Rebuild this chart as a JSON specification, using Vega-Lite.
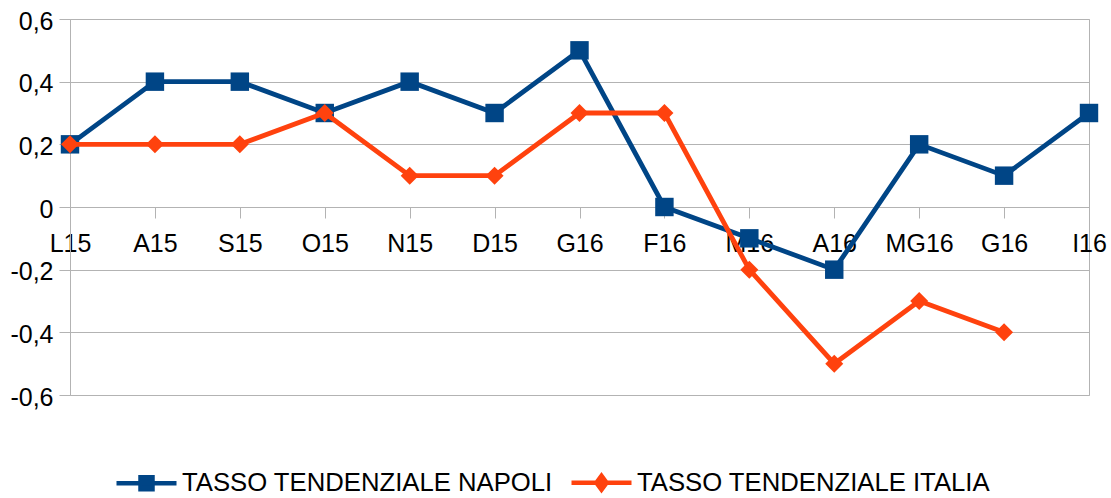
{
  "$schema": "https://vega.github.io/schema/vega-lite/v6.json",
  "width": 1019,
  "height": 376,
  "autosize": {"type": "none"},
  "padding": {"left": 70, "top": 19, "right": 22, "bottom": 103},
  "config": {
    "locale": {"number": {"decimal": ",", "thousands": ".", "grouping": [3], "currency": ["", "€"], "minus": "-"}},
    "view": {"stroke": "#b3b3b3", "strokeWidth": 1},
    "font": "Liberation Sans"
  },
  "data": {
    "values": [
      {"serie": "TASSO TENDENZIALE NAPOLI", "mese": "L15", "valore": 0.2},
      {"serie": "TASSO TENDENZIALE NAPOLI", "mese": "A15", "valore": 0.4},
      {"serie": "TASSO TENDENZIALE NAPOLI", "mese": "S15", "valore": 0.4},
      {"serie": "TASSO TENDENZIALE NAPOLI", "mese": "O15", "valore": 0.3},
      {"serie": "TASSO TENDENZIALE NAPOLI", "mese": "N15", "valore": 0.4},
      {"serie": "TASSO TENDENZIALE NAPOLI", "mese": "D15", "valore": 0.3},
      {"serie": "TASSO TENDENZIALE NAPOLI", "mese": "G16", "valore": 0.5},
      {"serie": "TASSO TENDENZIALE NAPOLI", "mese": "F16", "valore": 0.0},
      {"serie": "TASSO TENDENZIALE NAPOLI", "mese": "M16", "valore": -0.1},
      {"serie": "TASSO TENDENZIALE NAPOLI", "mese": "A16", "valore": -0.2},
      {"serie": "TASSO TENDENZIALE NAPOLI", "mese": "MG16", "valore": 0.2},
      {"serie": "TASSO TENDENZIALE NAPOLI", "mese": "G16 ", "valore": 0.1},
      {"serie": "TASSO TENDENZIALE NAPOLI", "mese": "I16", "valore": 0.3},
      {"serie": "TASSO TENDENZIALE ITALIA", "mese": "L15", "valore": 0.2},
      {"serie": "TASSO TENDENZIALE ITALIA", "mese": "A15", "valore": 0.2},
      {"serie": "TASSO TENDENZIALE ITALIA", "mese": "S15", "valore": 0.2},
      {"serie": "TASSO TENDENZIALE ITALIA", "mese": "O15", "valore": 0.3},
      {"serie": "TASSO TENDENZIALE ITALIA", "mese": "N15", "valore": 0.1},
      {"serie": "TASSO TENDENZIALE ITALIA", "mese": "D15", "valore": 0.1},
      {"serie": "TASSO TENDENZIALE ITALIA", "mese": "G16", "valore": 0.3},
      {"serie": "TASSO TENDENZIALE ITALIA", "mese": "F16", "valore": 0.3},
      {"serie": "TASSO TENDENZIALE ITALIA", "mese": "M16", "valore": -0.2},
      {"serie": "TASSO TENDENZIALE ITALIA", "mese": "A16", "valore": -0.5},
      {"serie": "TASSO TENDENZIALE ITALIA", "mese": "MG16", "valore": -0.3},
      {"serie": "TASSO TENDENZIALE ITALIA", "mese": "G16 ", "valore": -0.4}
    ]
  },
  "encoding": {
    "x": {
      "field": "mese",
      "type": "ordinal",
      "sort": null,
      "scale": {"type": "point", "padding": 0, "domain": ["L15", "A15", "S15", "O15", "N15", "D15", "G16", "F16", "M16", "A16", "MG16", "G16 ", "I16"]},
      "axis": {
        "title": null, "labelAngle": 0, "offset": -188, "grid": false,
        "domainColor": "#b3b3b3", "tickColor": "#b3b3b3", "tickSize": 11,
        "labelPadding": 13, "labelFontSize": 25, "labelColor": "#000000", "labelFont": "Liberation Sans"
      }
    },
    "y": {
      "field": "valore",
      "type": "quantitative",
      "scale": {"domain": [-0.6, 0.6], "nice": false, "zero": false},
      "axis": {
        "title": null, "values": [-0.6, -0.4, -0.2, 0, 0.2, 0.4, 0.6], "format": ".1~f",
        "gridColor": "#b3b3b3", "domainColor": "#b3b3b3", "tickColor": "#b3b3b3", "tickSize": 11,
        "labelPadding": 6, "labelFontSize": 25, "labelColor": "#000000", "labelOffset": 2, "labelFont": "Liberation Sans"
      }
    },
    "color": {
      "field": "serie",
      "type": "nominal",
      "scale": {"domain": ["TASSO TENDENZIALE NAPOLI", "TASSO TENDENZIALE ITALIA"], "range": ["#004586", "#ff420e"]},
      "legend": {
        "title": null, "orient": "none", "legendX": 44, "legendY": 431, "direction": "horizontal",
        "labelFontSize": 25.7, "labelColor": "#000000", "labelFont": "Liberation Sans", "labelLimit": 600,
        "symbolSize": 3600, "symbolStrokeWidth": 4.5, "labelOffset": 3, "columnPadding": 9, "padding": 0,
        "encode": {
          "symbols": {
            "update": {
              "shape": {"signal": "datum.value === 'TASSO TENDENZIALE NAPOLI' ? 'M-1,0H1M-0.2,-0.2H0.2V0.2H-0.2Z' : 'M-1,0H1M0,-0.23L0.17,0L0,0.23L-0.17,0Z'"},
              "fill": {"signal": "scale('color', datum.value)"},
              "stroke": {"signal": "scale('color', datum.value)"},
              "opacity": {"value": 1}
            }
          }
        }
      }
    }
  },
  "layer": [
    {
      "transform": [{"filter": {"field": "serie", "equal": "TASSO TENDENZIALE NAPOLI"}}],
      "mark": {"type": "line", "strokeWidth": 4.8}
    },
    {
      "transform": [{"filter": {"field": "serie", "equal": "TASSO TENDENZIALE NAPOLI"}}],
      "mark": {"type": "point", "filled": true, "opacity": 1, "size": 340, "shape": "square"}
    },
    {
      "transform": [{"filter": {"field": "serie", "equal": "TASSO TENDENZIALE ITALIA"}}],
      "mark": {"type": "line", "strokeWidth": 4.8}
    },
    {
      "transform": [{"filter": {"field": "serie", "equal": "TASSO TENDENZIALE ITALIA"}}],
      "mark": {"type": "point", "filled": true, "opacity": 1, "size": 324, "shape": "diamond"}
    }
  ]
}
